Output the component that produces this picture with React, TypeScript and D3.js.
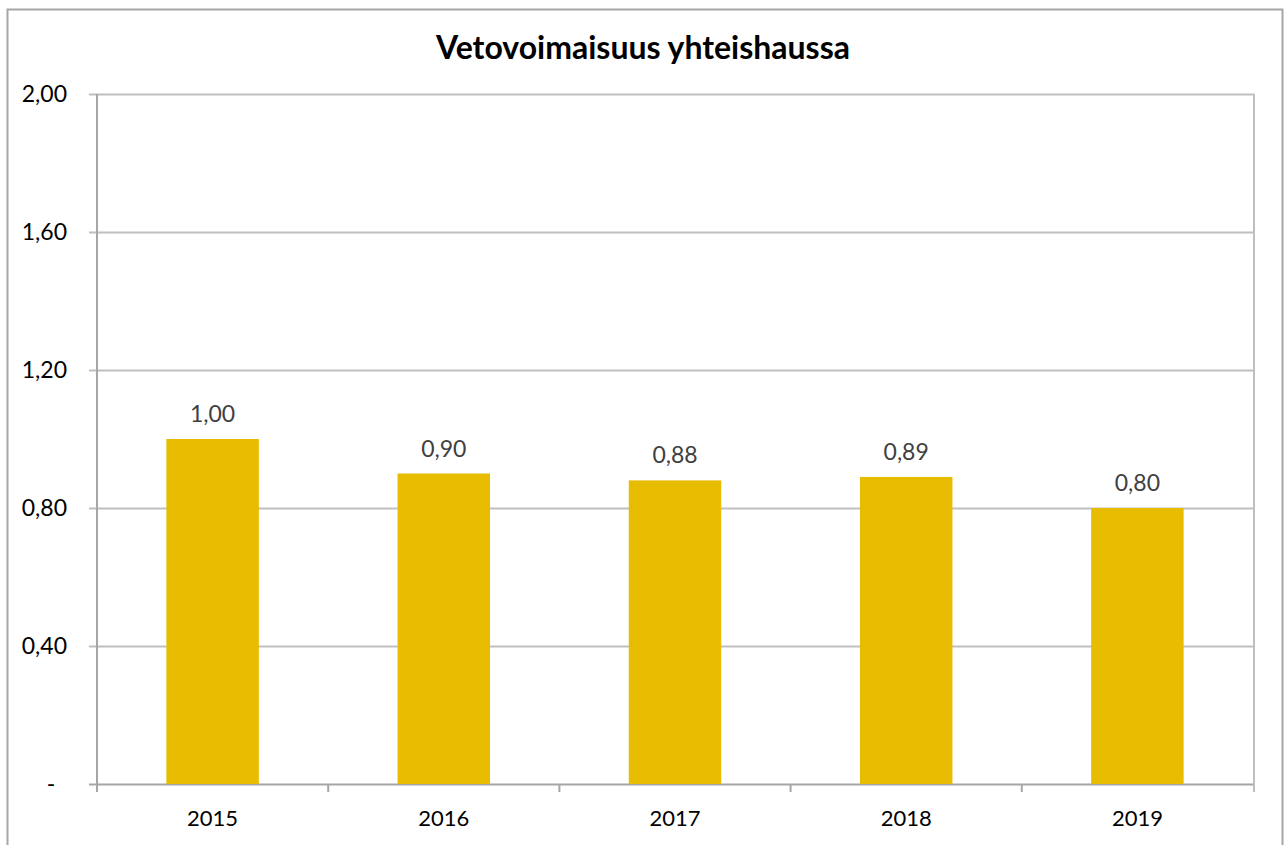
import * as d3 from 'd3'
import React, { useRef, useEffect } from 'react'

const years = ['2015', '2016', '2017', '2018', '2019']
const values = [1.0, 0.9, 0.88, 0.89, 0.8]
const yTicks = [0, 0.4, 0.8, 1.2, 1.6, 2.0]
const title = 'Vetovoimaisuus yhteishaussa'

const fmt = (v: number) => (v === 0 ? '-' : d3.format('.2f')(v).replace('.', ','))

const App = () => {
  const myRef = useRef<SVGSVGElement>(null)
  const width = 1285
  const height = 845
  const margin = { top: 94, right: 32, bottom: 61, left: 97 }

  useEffect(() => {
    const svg = d3.select(myRef.current)
    svg.selectAll('*').remove()
    const font = 'Lato, "Open Sans", sans-serif'

    const x = d3.scaleBand()
      .domain(years)
      .range([margin.left, width - margin.right])
      .paddingInner(0.6)
      .paddingOuter(0.3)
    const y = d3.scaleLinear().domain([0, 2]).range([height - margin.bottom, margin.top])

    // outer border
    svg.append('rect')
      .attr('x', 7.5).attr('y', 9.5)
      .attr('width', 1275).attr('height', 900)
      .attr('fill', 'white')
      .attr('stroke', '#a6a6a6').attr('stroke-width', 2)

    svg.append('text')
      .attr('x', 643).attr('y', 59)
      .attr('text-anchor', 'middle')
      .style('font-family', font).style('font-size', '32px').style('font-weight', 'bold')
      .attr('fill', '#000')
      .text(title)

    // gridlines + y ticks
    const gy = svg.append('g')
    yTicks.forEach(t => {
      gy.append('line')
        .attr('x1', margin.left - 8).attr('x2', width - margin.right + 1)
        .attr('y1', Math.round(y(t)) + 0.5).attr('y2', Math.round(y(t)) + 0.5)
        .attr('stroke', t === 0 ? '#a6a6a6' : '#bfbfbf').attr('stroke-width', 2)
      gy.append('text')
        .attr('x', t === 0 ? 51 : 67).attr('y', y(t))
        .attr('dy', '0.35em')
        .attr('text-anchor', t === 0 ? 'middle' : 'end')
        .style('font-family', font).style('font-size', '23px')
        .attr('fill', '#000')
        .text(fmt(t))
    })

    // y axis line and right border
    svg.append('line')
      .attr('x1', margin.left).attr('x2', margin.left)
      .attr('y1', margin.top).attr('y2', height - margin.bottom + 8)
      .attr('stroke', '#a6a6a6').attr('stroke-width', 2)
    svg.append('line')
      .attr('x1', width - margin.right + 1).attr('x2', width - margin.right + 1)
      .attr('y1', margin.top).attr('y2', height - margin.bottom + 8)
      .attr('stroke', '#bfbfbf').attr('stroke-width', 2)

    // category tick marks
    const step = x.step()
    years.forEach((yr, i) => {
      const xl = margin.left + step * (i + 1)
      if (i < years.length - 1) {
        svg.append('line')
          .attr('x1', xl).attr('x2', xl)
          .attr('y1', height - margin.bottom).attr('y2', height - margin.bottom + 8)
          .attr('stroke', '#a6a6a6').attr('stroke-width', 2)
      }
    })

    // bars
    svg.selectAll('.bar')
      .data(values)
      .enter().append('rect')
      .attr('class', 'bar')
      .attr('x', (d, i) => x(years[i])!)
      .attr('width', x.bandwidth())
      .attr('y', d => y(d))
      .attr('height', d => y(0) - y(d))
      .attr('fill', '#e8bc00')

    // data labels
    svg.selectAll('.lbl')
      .data(values)
      .enter().append('text')
      .attr('x', (d, i) => x(years[i])! + x.bandwidth() / 2)
      .attr('y', d => y(d) - 17)
      .attr('text-anchor', 'middle')
      .style('font-family', font).style('font-size', '23px')
      .attr('fill', '#404040')
      .text(d => fmt(d))

    // x labels
    years.forEach(yr => {
      svg.append('text')
        .attr('x', x(yr)! + x.bandwidth() / 2)
        .attr('y', 826)
        .attr('text-anchor', 'middle')
        .style('font-family', font).style('font-size', '22px')
        .attr('fill', '#000')
        .text(yr)
    })
  }, [])

  return (
    <svg ref={myRef} width={width} height={height}
      style={{ position: 'fixed', left: 0, top: 0, background: 'white' }} />
  )
}

export default App
